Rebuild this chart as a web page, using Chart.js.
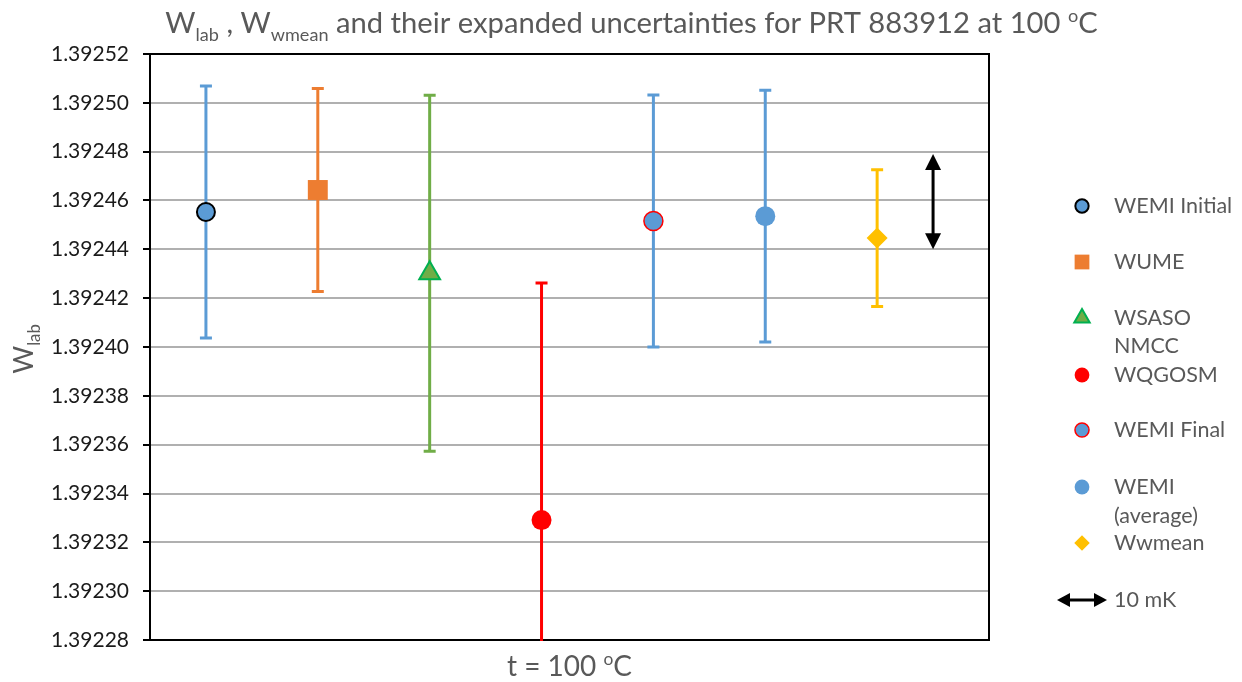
<!DOCTYPE html>
<html>
<head>
<meta charset="utf-8">
<title>W lab at 100 C</title>
<script src="https://cdn.jsdelivr.net/npm/chart.js@4.4.1/dist/chart.umd.min.js"></script>
<style>
  html, body { margin: 0; padding: 0; background: #fff; }
  #chart { display: block; }
</style>
</head>
<body>
<canvas id="chart" width="1242" height="682"></canvas>
<script>
// laboratory results at 100 °C, with expanded uncertainties (U)
const labels = ["WEMI Initial", "WUME", "WSASO NMCC", "WQGOSM", "WEMI Final", "WEMI (average)", "Wwmean"];
const xPos = [1, 2, 3, 4, 5, 6, 7];
const wValues = [1.3924553, 1.3924643, 1.3924302, 1.3923291, 1.3924516, 1.3924536, 1.3924446];
const uValues = [0.0000516, 0.0000416, 0.0000729, 0.0000971, 0.0000516, 0.0000516, 0.0000280];
const yTicks = [1.39228, 1.39230, 1.39232, 1.39234, 1.39236, 1.39238, 1.39240,
                1.39242, 1.39244, 1.39246, 1.39248, 1.39250, 1.39252];
// 10 mK reference arrow
const arrowX = 7.5;
const arrowY = [1.39244, 1.392479];

const fillColors = ["#5b9bd5", "#ed7d31", "#70ad47", "#ff0000", "#5b9bd5", "#5b9bd5", "#ffc000"];
const edgeColors = ["#000000", "#ed7d31", "#00b050", "#ff0000", "#ff0000", "#5b9bd5", "#ffc000"];
const edgeWidths = [2, 0, 2, 0, 1.5, 0, 0];
const barColors = ["#5b9bd5", "#ed7d31", "#70ad47", "#ff0000", "#5b9bd5", "#5b9bd5", "#ffc000"];
const pointStyles = ["circle", "rect", "triangle", "circle", "circle", "circle", "rectRot"];
const pointRadii = [9, 14.1, 12, 10, 9.5, 10, 10.5];

const FONT = "Lato, 'Open Sans', sans-serif";
const GREY = "#595959";

// text with subscripts / superscripts: parts = [[text, "sub"|"sup"|""], ...]
function richWidth(ctx, parts, size) {
    let w = 0;
    parts.forEach(([t, k]) => {
        ctx.font = (k ? size * 0.62 : size) + "px " + FONT;
        w += ctx.measureText(t).width;
    });
    return w;
}
function drawRich(ctx, parts, x, y, size, color) {
    ctx.fillStyle = color;
    ctx.textAlign = "left";
    ctx.textBaseline = "alphabetic";
    let cx = x;
    parts.forEach(([t, k]) => {
        const s = k ? size * 0.62 : size;
        ctx.font = s + "px " + FONT;
        const dy = k === "sub" ? size * 0.26 : k === "sup" ? -size * 0.38 : 0;
        ctx.fillText(t, cx, y + dy);
        cx += ctx.measureText(t).width;
    });
}

function arrowHead(ctx, x, y, dx, dy, len, half) {
    // tip at (x, y), pointing along (dx, dy)
    ctx.beginPath();
    ctx.moveTo(x, y);
    ctx.lineTo(x - dx * len - dy * half, y - dy * len + dx * half);
    ctx.lineTo(x - dx * len + dy * half, y - dy * len - dx * half);
    ctx.closePath();
    ctx.fill();
}

const errorBars = {
    id: "errorBars",
    beforeDatasetsDraw(chart) {
        const { ctx, chartArea: a, scales: { x, y } } = chart;
        ctx.save();
        // top and right frame
        ctx.strokeStyle = "#000";
        ctx.lineWidth = 2;
        ctx.beginPath();
        ctx.moveTo(a.left, a.top);
        ctx.lineTo(a.right, a.top);
        ctx.lineTo(a.right, a.bottom);
        ctx.stroke();

        ctx.beginPath();
        ctx.rect(a.left, a.top, a.right - a.left, a.bottom - a.top + 1);
        ctx.clip();
        wValues.forEach((w, i) => {
            const px = x.getPixelForValue(xPos[i]);
            const top = y.getPixelForValue(w + uValues[i]);
            const bot = y.getPixelForValue(w - uValues[i]);
            ctx.strokeStyle = barColors[i];
            ctx.lineWidth = 3;
            ctx.beginPath();
            ctx.moveTo(px, top);
            ctx.lineTo(px, bot);
            ctx.moveTo(px - 6, top);
            ctx.lineTo(px + 6, top);
            ctx.moveTo(px - 6, bot);
            ctx.lineTo(px + 6, bot);
            ctx.stroke();
        });

        // 10 mK arrow
        const ax = x.getPixelForValue(arrowX);
        const y0 = y.getPixelForValue(arrowY[0]);
        const y1 = y.getPixelForValue(arrowY[1]);
        ctx.strokeStyle = "#000";
        ctx.fillStyle = "#000";
        ctx.lineWidth = 3;
        ctx.beginPath();
        ctx.moveTo(ax, y0 - 12);
        ctx.lineTo(ax, y1 + 12);
        ctx.stroke();
        arrowHead(ctx, ax, y1, 0, -1, 16, 8);
        arrowHead(ctx, ax, y0, 0, 1, 16, 8);
        ctx.restore();
    }
};

const decorations = {
    id: "decorations",
    afterDraw(chart) {
        const { ctx, chartArea: a } = chart;
        ctx.save();

        // title
        const titleParts = [["W", ""], ["lab", "sub"], [" , W", ""], ["wmean", "sub"],
            [" and their expanded uncertainties for PRT 883912 at 100 ", ""], ["o", "sup"], ["C", ""]];
        let ts = 26;
        ts = ts * 933 / richWidth(ctx, titleParts, ts);
        const tw = richWidth(ctx, titleParts, ts);
        drawRich(ctx, titleParts, 631.5 - tw / 2, 33, ts, GREY);

        // x axis title
        const xParts = [["t = 100 ", ""], ["o", "sup"], ["C", ""]];
        const xs = 28;
        const xw = richWidth(ctx, xParts, xs);
        drawRich(ctx, xParts, (a.left + a.right) / 2 - xw / 2, 676, xs, GREY);

        // y axis title
        ctx.save();
        ctx.translate(33, 349);
        ctx.rotate(-Math.PI / 2);
        const yParts = [["W", ""], ["lab", "sub"]];
        const yw = richWidth(ctx, yParts, 27);
        drawRich(ctx, yParts, -yw / 2, 0, 27, GREY);
        ctx.restore();

        // legend
        const rowY = [206, 262, 318, 375, 430, 487, 543];
        const lineGap = [0, 0, 28, 0, 0, 29, 0];
        labels.forEach((name, i) => {
            const ds = chart.data.datasets[i];
            ctx.fillStyle = fillColors[i];
            ctx.strokeStyle = edgeColors[i];
            ctx.lineWidth = edgeWidths[i];
            Chart.helpers.drawPoint(ctx, {
                pointStyle: ds.pointStyle,
                radius: pointRadii[i] * 0.74,
                borderWidth: edgeWidths[i],
                rotation: 0
            }, 1082, rowY[i]);
            ctx.fillStyle = GREY;
            ctx.font = "21.5px " + FONT;
            ctx.textAlign = "left";
            ctx.textBaseline = "middle";
            const words = name.split(" ");
            if (lineGap[i]) {
                ctx.fillText(words[0], 1114, rowY[i]);
                ctx.fillText(words.slice(1).join(" "), 1114, rowY[i] + lineGap[i]);
            } else {
                ctx.fillText(name, 1114, rowY[i]);
            }
        });
        // legend entry for the arrow
        ctx.strokeStyle = "#000";
        ctx.fillStyle = "#000";
        ctx.lineWidth = 3;
        ctx.beginPath();
        ctx.moveTo(1066, 600);
        ctx.lineTo(1098, 600);
        ctx.stroke();
        arrowHead(ctx, 1057, 600, -1, 0, 13, 7);
        arrowHead(ctx, 1107, 600, 1, 0, 13, 7);
        ctx.fillStyle = GREY;
        ctx.fillText("10 mK", 1114, 600);
        ctx.restore();
    }
};

const chart = new Chart(document.getElementById("chart"), {
    type: "scatter",
    data: {
        datasets: labels.map((name, i) => ({
            label: name,
            data: [{ x: xPos[i], y: wValues[i] }],
            pointStyle: pointStyles[i],
            pointRadius: pointRadii[i],
            pointHoverRadius: pointRadii[i],
            pointBackgroundColor: fillColors[i],
            pointBorderColor: edgeColors[i],
            pointBorderWidth: edgeWidths[i]
        }))
    },
    options: {
        responsive: false,
        animation: false,
        events: [],
        layout: { padding: { top: 54, right: 253, left: 0, bottom: 0 } },
        plugins: {
            legend: { display: false },
            tooltip: { enabled: false }
        },
        scales: {
            x: {
                type: "linear",
                min: 0.5,
                max: 8,
                ticks: { display: false },
                grid: { display: false, drawTicks: false },
                border: { color: "#000", width: 2 },
                afterFit(scale) { scale.height = 42; }
            },
            y: {
                min: 1.39228,
                max: 1.39252,
                afterBuildTicks(scale) {
                    scale.ticks = yTicks.map(v => ({ value: v }));
                },
                ticks: {
                    callback: v => v.toFixed(5),
                    color: "#1a1a1a",
                    font: { family: FONT, size: 21 },
                    padding: 14
                },
                grid: { color: "#b0b0b0", lineWidth: 2, tickLength: 7, tickColor: "#000" },
                border: { color: "#000", width: 2 },
                afterFit(scale) { scale.width = 150; }
            }
        }
    },
    plugins: [errorBars, decorations]
});
</script>
</body>
</html>
